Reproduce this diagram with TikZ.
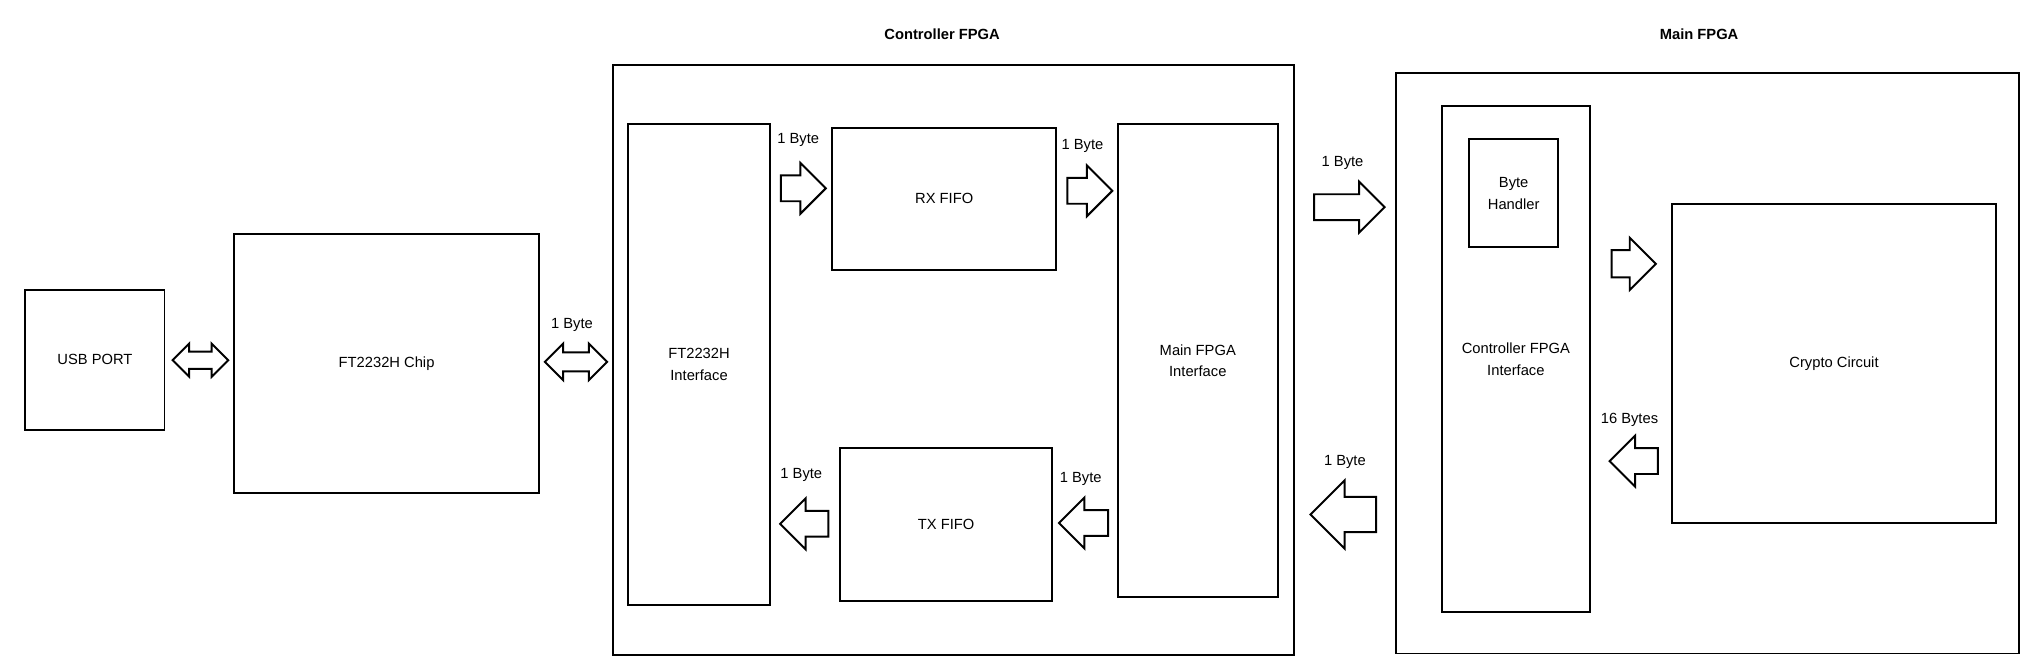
\documentclass[tikz,border=0pt]{standalone}
\usepackage{fontspec}
\setmainfont{Liberation Sans}
\usepackage{tikz}
\usetikzlibrary{positioning, shapes.arrows}

\tikzset{
    blk/.style={draw, line width=1.5pt, inner sep=2pt, align=center},
    title/.style={font=\fontsize{11.3}{16.5}\selectfont\bfseries},
    lbl/.style={inner sep=0pt},
    flowr/.style={single arrow, draw, line width=1.5pt, inner xsep=0pt, inner ysep=9.15pt,
        minimum width=37.5pt, single arrow head extend=9.6pt, minimum height=#1, anchor=tail},
    flowl/.style={flowr=#1, shape border rotate=180},
    both/.style={double arrow, draw, line width=1.5pt, inner xsep=0pt, minimum height=#1}
}

\begin{document}
\begin{tikzpicture}[x=1pt, y=-1pt, every node/.append style={font=\fontsize{11.3}{16.5}\selectfont}]
    \useasboundingbox (0,0) rectangle (1568,515.5);
    % Host side
    \node[blk, minimum width=106.7pt, minimum height=107pt] (usb) at (72.85,276.1) {USB PORT};
    \node[blk, minimum width=233.9pt, minimum height=198.3pt] (chip) at (296.55,278.75) {FT2232H Chip};
    \node[both=42.7pt, inner ysep=5.85pt, minimum width=24pt, double arrow head extend=6.15pt] (usbchip) at (153.75,276.3) {};
    \node[both=47.9pt, inner ysep=6.5pt, minimum width=26.6pt, double arrow head extend=6.8pt] (chipctrl) at (441.85,277.6) {};
    \node[lbl] (lchip) at (438.8,249.5) {1 Byte};
    % Controller FPGA
    \node[title] (tctrl) at (722.7,26.3) {Controller FPGA};
    \node[blk, minimum width=522.8pt, minimum height=452.4pt] (ctrl) at (731.5,276.1) {};
    \node[blk, minimum width=109.1pt, minimum height=369pt] (ftif) at (536.25,279.7) {FT2232H\\Interface};
    \node[blk, minimum width=172pt, minimum height=108.6pt] (rx) at (724.3,152.5) {RX FIFO};
    \node[blk, minimum width=162.9pt, minimum height=117.5pt] (tx) at (725.75,402.15) {TX FIFO};
    \node[blk, minimum width=122.7pt, minimum height=363.4pt] (mfif) at (918.85,276.6) {Main FPGA\\Interface};
    \node[flowr=34.5pt] (ftrx) at (598.2,144.5) {};
    \node[flowr=34.5pt] (rxmf) at (818,146.4) {};
    \node[flowl=37pt] (txft) at (636.2,401.8) {};
    \node[flowl=37.7pt] (mftx) at (850.8,401.2) {};
    \node[lbl] (lftrx) at (612.3,107.7) {1 Byte};
    \node[lbl] (lrxmf) at (830.4,112.3) {1 Byte};
    \node[lbl] (ltxft) at (614.7,364.4) {1 Byte};
    \node[lbl] (lmftx) at (829,367.7) {1 Byte};
    % Links between the FPGAs
    \node[flowr=54pt] (ctrlmain) at (1007.4,158.9) {};
    \node[flowl=50.4pt, inner ysep=12.8pt, minimum width=51pt, single arrow head extend=12.7pt] (mainctrl) at (1056.4,394.7) {};
    \node[lbl] (lctrlmain) at (1029.9,124.8) {1 Byte};
    \node[lbl] (lmainctrl) at (1031.7,354.6) {1 Byte};
    % Main FPGA
    \node[title] (tmain) at (1303.4,26.3) {Main FPGA};
    \node[blk, minimum width=478pt, minimum height=445.5pt] (main) at (1310,278.55) {};
    \node[blk, minimum width=113.3pt, minimum height=388.4pt] (cfif) at (1162.85,275.6) {Controller FPGA\\Interface};
    \node[blk, minimum width=67.9pt, minimum height=83.1pt] (bh) at (1161.15,148.25) {Byte\\Handler};
    \node[blk, minimum width=248.4pt, minimum height=244.3pt] (crypto) at (1406.9,278.75) {Crypto Circuit};
    \node[flowr=34pt, inner ysep=9.7pt, minimum width=38.4pt] (cfcr) at (1235.5,202.4) {};
    \node[flowl=37pt] (crcf) at (1272.5,353.7) {};
    \node[lbl] (lcrcf) at (1250,322.4) {16 Bytes};
\end{tikzpicture}
\end{document}
